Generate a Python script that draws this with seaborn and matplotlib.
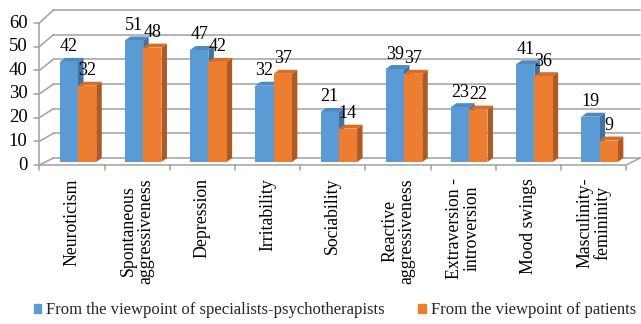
import matplotlib
matplotlib.use("Agg")
import matplotlib.pyplot as plt
import numpy as np
import pandas as pd
import seaborn as sns
from matplotlib.lines import Line2D
from matplotlib.patches import Polygon, Patch
from matplotlib.transforms import IdentityTransform

# ---- data -------------------------------------------------------------
categories = [
    "Neuroticism",
    "Spontaneous\naggressiveness",
    "Depression",
    "Irritability",
    "Sociability",
    "Reactive\naggressiveness",
    "Extraversion -\nintroversion",
    "Mood swings",
    "Masculinity-\nfemininity",
]
specialists = [42, 51, 47, 32, 21, 39, 23, 41, 19]
patients = [32, 48, 42, 37, 14, 37, 22, 36, 9]
series_names = [
    "From the viewpoint of specialists-psychotherapists",
    "From the viewpoint of patients",
]
y_ticks = [0, 10, 20, 30, 40, 50, 60]

# ---- style ------------------------------------------------------------
BLUE, BLUE_TOP, BLUE_SIDE = "#5B9BD5", "#4F89C2", "#41719C"
ORANGE, ORANGE_TOP, ORANGE_SIDE = "#ED7D31", "#D86D25", "#AE5A21"
GRID = "#A0A0A0"

sns.set_theme(style="white")
plt.rcParams["font.family"] = ["Liberation Serif", "DejaVu Serif"]

W, H = 641, 324
fig = plt.figure(figsize=(W / 100, H / 100), dpi=100)
fig.patch.set_facecolor("white")
# axes = the plane in which the bar fronts sit
ax = fig.add_axes([45.4 / W, (H - 162) / H, (632.2 - 45.4) / W, 143 / H])

df = pd.DataFrame({
    "category": categories * 2,
    "series": [series_names[0]] * len(categories) + [series_names[1]] * len(categories),
    "value": specialists + patients,
})
sns.barplot(data=df, x="category", y="value", hue="series",
            order=categories, hue_order=series_names,
            palette=[BLUE, ORANGE], saturation=1, width=0.56,
            errorbar=None, linewidth=0, legend=False, ax=ax)
ax.set_xlim(-0.5, len(categories) - 0.5)
ax.set_ylim(0, 60)
ax.set_axis_off()

ID = IdentityTransform()
n = len(categories)


def disp(u, v):
    return ax.transData.transform((u, v))


def front(u, v):
    x, y = disp(u, v)
    return x - 6, y - (3 + v / 60)


def back(u, v):
    x, y = disp(u, v)
    return x + 8, y + (4 + 5 * v / 60)


def seg(p, q, **kw):
    ax.add_line(Line2D([p[0], q[0]], [p[1], q[1]], transform=ID, clip_on=False,
                       color=GRID, lw=1.1, zorder=0.5, **kw))


# walls and floor of the 3-D frame
for v in y_ticks:
    seg(front(-0.5, v), back(-0.5, v))
    seg(back(-0.5, v), back(n - 0.5, v))
    fx, fy = front(-0.5, v)
    seg((fx - 5, fy), (fx, fy))
    ax.text(fx - 12, fy, str(v), transform=ID, ha="right", va="center",
            fontsize=13.5, color="black")
seg(front(-0.5, 0), front(-0.5, 60))
seg(front(-0.5, 0), front(n - 0.5, 0))
seg(front(n - 0.5, 0), back(n - 0.5, 0))
for k in range(n + 1):
    fx, fy = front(k - 0.5, 0)
    seg((fx, fy), (fx, fy - 5))

# category labels
for i, cat in enumerate(categories):
    fx, fy = front(i, 0)
    ax.text(fx, fy - 13, cat, transform=ID, rotation=90, ha="center", va="top",
            multialignment="center", fontsize=12.8, linespacing=1.0, color="black")

# 3-D depth of each bar: top and right faces
DX, DY = 5.5, 4.0
faces = [(BLUE_TOP, BLUE_SIDE, 2), (ORANGE_TOP, ORANGE_SIDE, 3)]
for container, values, (c_top, c_side, z) in zip(ax.containers, [specialists, patients], faces):
    for bar, val in zip(container, values):
        bar.set_zorder(z + 0.2)
        x0, y0 = disp(bar.get_x(), 0)
        x1, y1 = disp(bar.get_x() + bar.get_width(), bar.get_height())
        top = [(x0, y1), (x1, y1), (x1 + DX, y1 + DY), (x0 + DX, y1 + DY)]
        side = [(x1, y0), (x1, y1), (x1 + DX, y1 + DY), (x1 + DX, y0 + DY)]
        ax.add_patch(Polygon(side, closed=True, transform=ID, facecolor=c_side,
                             edgecolor="none", zorder=z, clip_on=False))
        ax.add_patch(Polygon(top, closed=True, transform=ID, facecolor=c_top,
                             edgecolor="none", zorder=z + 0.1, clip_on=False))
        ax.annotate(str(val), (bar.get_x() + bar.get_width() / 2, bar.get_height()),
                    xytext=(0, 15), textcoords="offset pixels", ha="center", va="center",
                    fontsize=13, color="black", zorder=6, annotation_clip=False)

# legend
fig.legend(handles=[Patch(color=BLUE), Patch(color=ORANGE)], labels=series_names,
           loc="center", bbox_to_anchor=(335 / W, 1 - 310 / H), ncol=2, frameon=False,
           fontsize=12, handlelength=0.45, handleheight=0.45, handletextpad=0.3,
           columnspacing=2.0, borderpad=0, borderaxespad=0)

fig.savefig("out.png", dpi=100)
